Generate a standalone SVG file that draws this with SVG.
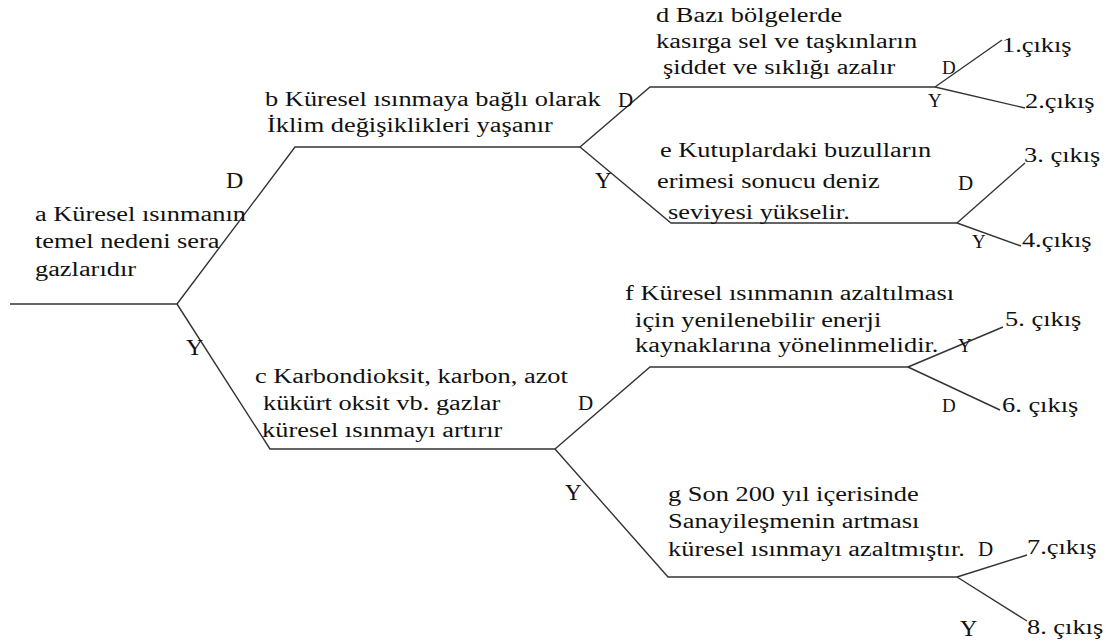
<svg xmlns="http://www.w3.org/2000/svg" width="1106" height="644" viewBox="0 0 1106 644">
<style>
.t{font-size:20px;fill:#111}
.l{fill:#111}
.c{fill:none;stroke:#333;stroke-width:1.4}
</style>
<rect width="1106" height="644" fill="#fff"/>
<g id="connectors" class="c">
<path d="M10,304 H177"/>
<path d="M177,304 L295,147 H580"/>
<path d="M580,147 L650,87 H935"/>
<path d="M935,87 L1002,40"/>
<path d="M935,87 L1025,108"/>
<path d="M580,147 L671,223 H957"/>
<path d="M957,223 L1025,163"/>
<path d="M957,223 L1021,246"/>
<path d="M177,304 L270,449 H555"/>
<path d="M555,449 L650,367 H908"/>
<path d="M908,367 L1003,327"/>
<path d="M908,367 L1000,410"/>
<path d="M555,449 L668,577 H957"/>
<path d="M957,577 L1027,555"/>
<path d="M957,577 L1027,621"/>
</g>
<g font-family="Liberation Serif, Times New Roman, serif">
<g id="node-a" class="t" transform="scale(1.32,1)">
<text x="26.5" y="221">a Küresel ısınmanın</text>
<text x="26.5" y="248">temel nedeni sera</text>
<text x="26.5" y="276">gazlarıdır</text>
</g>
<g id="node-b" class="t" transform="scale(1.32,1)">
<text x="200.8" y="106">b Küresel ısınmaya bağlı olarak</text>
<text x="202.3" y="132">İklim değişiklikleri yaşanır</text>
</g>
<g id="node-c" class="t" transform="scale(1.32,1)">
<text x="193.2" y="383">c Karbondioksit, karbon, azot</text>
<text x="199.2" y="410">kükürt oksit vb. gazlar</text>
<text x="198.5" y="437">küresel ısınmayı artırır</text>
</g>
<g id="node-d" class="t" transform="scale(1.32,1)">
<text x="497" y="22">d Bazı bölgelerde</text>
<text x="497" y="48">kasırga sel ve taşkınların</text>
<text x="502.3" y="74">şiddet ve sıklığı azalır</text>
</g>
<g id="node-e" class="t" transform="scale(1.32,1)">
<text x="500" y="157">e Kutuplardaki buzulların</text>
<text x="497.7" y="188">erimesi sonucu deniz</text>
<text x="506.1" y="219">seviyesi yükselir.</text>
</g>
<g id="node-f" class="t" transform="scale(1.32,1)">
<text x="473.5" y="300">f Küresel ısınmanın azaltılması</text>
<text x="481.1" y="327">için yenilenebilir enerji</text>
<text x="481.1" y="352">kaynaklarına yönelinmelidir.</text>
</g>
<g id="node-g" class="t" transform="scale(1.32,1)">
<text x="506.1" y="501">g Son 200 yıl içerisinde</text>
<text x="506.1" y="528">Sanayileşmenin artması</text>
<text x="506.1" y="556">küresel ısınmayı azaltmıştır.</text>
</g>
<g id="outputs" class="t" transform="scale(1.32,1)">
<text x="759.1" y="52">1.çıkış</text>
<text x="776.5" y="108">2.çıkış</text>
<text x="775.8" y="162">3. çıkış</text>
<text x="774.2" y="247">4.çıkış</text>
<text x="761.4" y="326">5. çıkış</text>
<text x="759.1" y="412">6. çıkış</text>
<text x="778" y="554">7.çıkış</text>
<text x="778" y="634">8. çıkış</text>
</g>
<g id="branch-labels" class="l">
<text x="226" y="188" font-size="24">D</text>
<text x="186" y="355" font-size="24">Y</text>
<text x="618" y="107" font-size="21">D</text>
<text x="595" y="188" font-size="23">Y</text>
<text x="942" y="74" font-size="19">D</text>
<text x="928" y="107" font-size="19">Y</text>
<text x="958" y="190" font-size="21">D</text>
<text x="972" y="248" font-size="19">Y</text>
<text x="578" y="410" font-size="21">D</text>
<text x="565" y="500" font-size="23">Y</text>
<text x="958" y="352" font-size="19">Y</text>
<text x="942" y="412" font-size="19">D</text>
<text x="978" y="556" font-size="21">D</text>
<text x="960" y="636" font-size="24">Y</text>
</g>
</g>
</svg>
